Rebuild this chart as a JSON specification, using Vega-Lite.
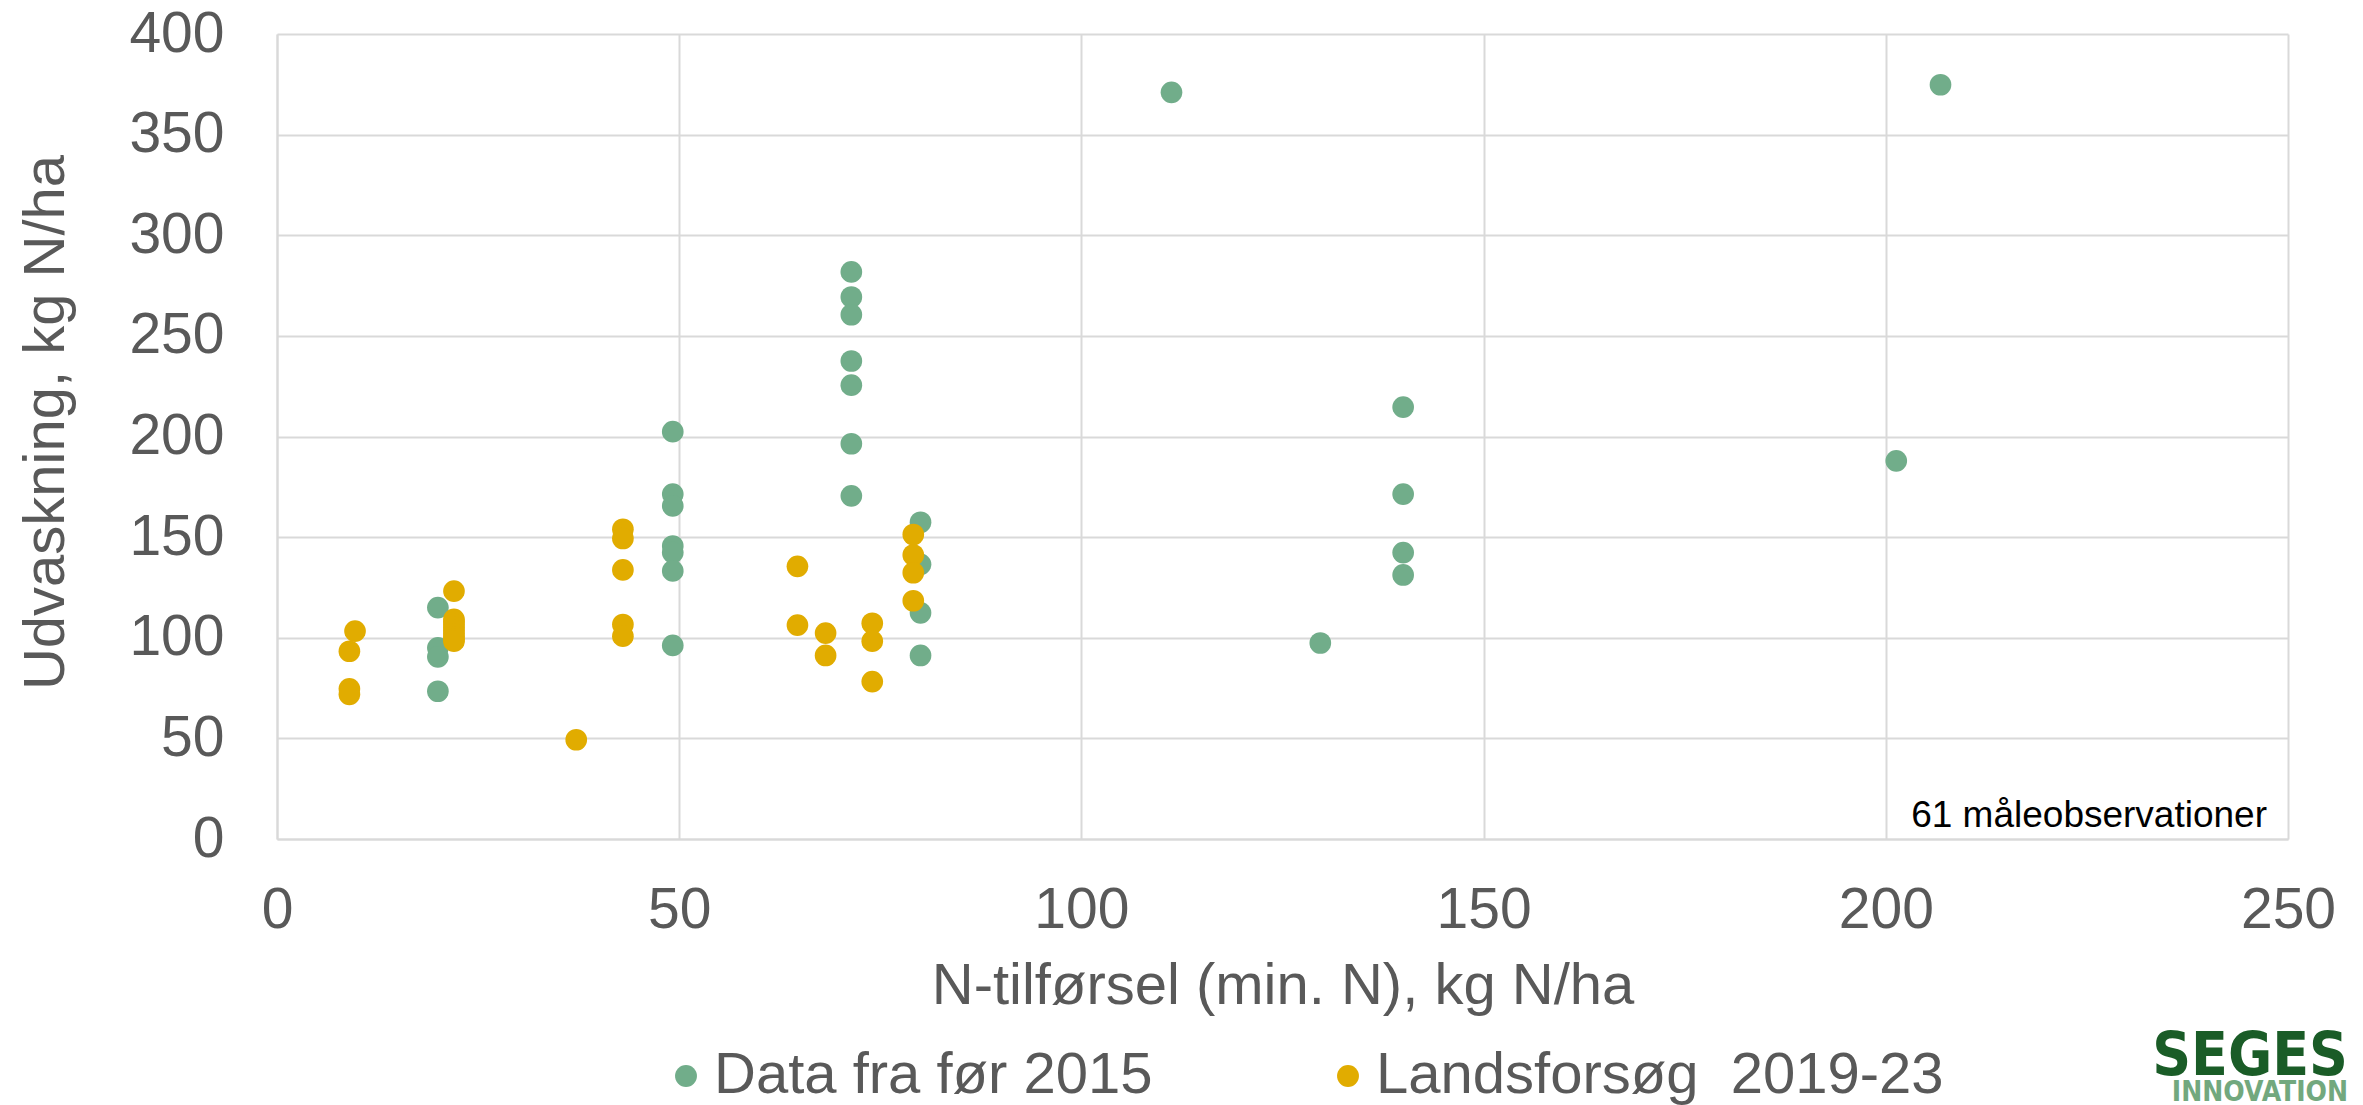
{
  "$schema": "https://vega.github.io/schema/vega-lite/v6.json",
  "width": 2011,
  "height": 805,
  "autosize": {"type": "none"},
  "padding": {"left": 277, "top": 34, "right": 75, "bottom": 266},
  "background": "white",
  "config": {"view": {"stroke": null}, "font": "Liberation Sans, Arial, sans-serif"},
  "datasets": {
    "obs": [
      {"N": 20, "udv": 115, "serie": "Data fra før 2015"},
      {"N": 20, "udv": 95, "serie": "Data fra før 2015"},
      {"N": 20, "udv": 90.5, "serie": "Data fra før 2015"},
      {"N": 20, "udv": 73.4, "serie": "Data fra før 2015"},
      {"N": 49.2, "udv": 202.4, "serie": "Data fra før 2015"},
      {"N": 49.2, "udv": 171.4, "serie": "Data fra før 2015"},
      {"N": 49.2, "udv": 165.5, "serie": "Data fra før 2015"},
      {"N": 49.2, "udv": 145.6, "serie": "Data fra før 2015"},
      {"N": 49.2, "udv": 142.3, "serie": "Data fra før 2015"},
      {"N": 49.2, "udv": 133.2, "serie": "Data fra før 2015"},
      {"N": 49.2, "udv": 96.2, "serie": "Data fra før 2015"},
      {"N": 71.4, "udv": 281.8, "serie": "Data fra før 2015"},
      {"N": 71.4, "udv": 269.3, "serie": "Data fra før 2015"},
      {"N": 71.4, "udv": 260.5, "serie": "Data fra før 2015"},
      {"N": 71.4, "udv": 237.5, "serie": "Data fra før 2015"},
      {"N": 71.4, "udv": 225.5, "serie": "Data fra før 2015"},
      {"N": 71.4, "udv": 196.4, "serie": "Data fra før 2015"},
      {"N": 71.4, "udv": 170.5, "serie": "Data fra før 2015"},
      {"N": 80, "udv": 157.4, "serie": "Data fra før 2015"},
      {"N": 80, "udv": 136.5, "serie": "Data fra før 2015"},
      {"N": 80, "udv": 112.4, "serie": "Data fra før 2015"},
      {"N": 80, "udv": 91.2, "serie": "Data fra før 2015"},
      {"N": 111.2, "udv": 371, "serie": "Data fra før 2015"},
      {"N": 129.7, "udv": 97.4, "serie": "Data fra før 2015"},
      {"N": 140, "udv": 214.6, "serie": "Data fra før 2015"},
      {"N": 140, "udv": 171.4, "serie": "Data fra før 2015"},
      {"N": 140, "udv": 142.3, "serie": "Data fra før 2015"},
      {"N": 140, "udv": 131.2, "serie": "Data fra før 2015"},
      {"N": 201.3, "udv": 187.9, "serie": "Data fra før 2015"},
      {"N": 206.8, "udv": 374.8, "serie": "Data fra før 2015"},
      {"N": 9.7, "udv": 103.3, "serie": "Landsforsøg  2019-23"},
      {"N": 9, "udv": 93.3, "serie": "Landsforsøg  2019-23"},
      {"N": 9, "udv": 74.6, "serie": "Landsforsøg  2019-23"},
      {"N": 9, "udv": 71.9, "serie": "Landsforsøg  2019-23"},
      {"N": 22, "udv": 123.2, "serie": "Landsforsøg  2019-23"},
      {"N": 22, "udv": 109.1, "serie": "Landsforsøg  2019-23"},
      {"N": 22, "udv": 108, "serie": "Landsforsøg  2019-23"},
      {"N": 22, "udv": 106.5, "serie": "Landsforsøg  2019-23"},
      {"N": 22, "udv": 105, "serie": "Landsforsøg  2019-23"},
      {"N": 22, "udv": 103.5, "serie": "Landsforsøg  2019-23"},
      {"N": 22, "udv": 102, "serie": "Landsforsøg  2019-23"},
      {"N": 22, "udv": 100.5, "serie": "Landsforsøg  2019-23"},
      {"N": 22, "udv": 99.3, "serie": "Landsforsøg  2019-23"},
      {"N": 22, "udv": 98.3, "serie": "Landsforsøg  2019-23"},
      {"N": 37.2, "udv": 49.3, "serie": "Landsforsøg  2019-23"},
      {"N": 43, "udv": 153.9, "serie": "Landsforsøg  2019-23"},
      {"N": 43, "udv": 149.3, "serie": "Landsforsøg  2019-23"},
      {"N": 43, "udv": 133.7, "serie": "Landsforsøg  2019-23"},
      {"N": 43, "udv": 106.6, "serie": "Landsforsøg  2019-23"},
      {"N": 43, "udv": 100.8, "serie": "Landsforsøg  2019-23"},
      {"N": 64.7, "udv": 135.5, "serie": "Landsforsøg  2019-23"},
      {"N": 64.7, "udv": 106.3, "serie": "Landsforsøg  2019-23"},
      {"N": 68.2, "udv": 102.3, "serie": "Landsforsøg  2019-23"},
      {"N": 68.2, "udv": 91.2, "serie": "Landsforsøg  2019-23"},
      {"N": 74, "udv": 107.2, "serie": "Landsforsøg  2019-23"},
      {"N": 74, "udv": 98.3, "serie": "Landsforsøg  2019-23"},
      {"N": 74, "udv": 78.2, "serie": "Landsforsøg  2019-23"},
      {"N": 79.1, "udv": 151.3, "serie": "Landsforsøg  2019-23"},
      {"N": 79.1, "udv": 141.1, "serie": "Landsforsøg  2019-23"},
      {"N": 79.1, "udv": 132.3, "serie": "Landsforsøg  2019-23"},
      {"N": 79.1, "udv": 118.4, "serie": "Landsforsøg  2019-23"}
    ],
    "note": [{"tekst": "61 måleobservationer"}],
    "logo1": [{"tekst": "SEGES"}],
    "logo2": [{"tekst": "INNOVATION"}]
  },
  "layer": [
    {
      "data": {"name": "obs"},
      "mark": {"type": "circle", "size": 470, "opacity": 1},
      "encoding": {
        "x": {
          "field": "N",
          "type": "quantitative",
          "scale": {"domain": [0, 250], "nice": false},
          "axis": {
            "values": [0, 50, 100, 150, 200, 250],
            "grid": true,
            "gridColor": "#d9d9d9",
            "gridWidth": 2,
            "domainColor": "#d9d9d9",
            "domainWidth": 2,
            "ticks": false,
            "tickSize": 0,
            "labelFontSize": 57,
            "labelColor": "#595959",
            "labelPadding": 43,
            "labelFlush": false,
            "labelOverlap": false,
            "title": "N-tilførsel (min. N), kg N/ha",
            "titleFontSize": 58,
            "titleFontWeight": "normal",
            "titleColor": "#595959",
            "titleBaseline": "alphabetic",
            "titleY": 164
          }
        },
        "y": {
          "field": "udv",
          "type": "quantitative",
          "scale": {"domain": [0, 400], "nice": false},
          "axis": {
            "values": [0, 50, 100, 150, 200, 250, 300, 350, 400],
            "grid": true,
            "gridColor": "#d9d9d9",
            "gridWidth": 2,
            "domainColor": "#d9d9d9",
            "domainWidth": 2,
            "ticks": false,
            "tickSize": 0,
            "labelFontSize": 57,
            "labelColor": "#595959",
            "labelPadding": 53,
            "labelFlush": false,
            "labelOverlap": false,
            "title": "Udvaskning, kg N/ha",
            "titleFontSize": 58,
            "titleFontWeight": "normal",
            "titleColor": "#595959",
            "titleAngle": -90,
            "titleBaseline": "alphabetic",
            "titleAlign": "center",
            "titleX": -214,
            "titleY": 388
          }
        },
        "color": {
          "field": "serie",
          "type": "nominal",
          "scale": {"domain": ["Data fra før 2015", "Landsforsøg  2019-23"], "range": ["#71ad8a", "#e1ac00"]},
          "legend": {
            "title": null,
            "orient": "none",
            "legendX": 380,
            "legendY": 1013,
            "direction": "horizontal",
            "padding": 0,
            "labelFontSize": 58,
            "labelColor": "#595959",
            "labelLimit": 2000,
            "labelOffset": -1,
            "columnPadding": 166,
            "symbolType": "circle",
            "symbolSize": 480,
            "symbolStrokeWidth": 0,
            "symbolOpacity": 1,
            "labelExpr": "replace(datum.label, '  ', '\u00a0 ')"
          }
        }
      }
    },
    {
      "data": {"name": "note"},
      "mark": {"type": "text", "align": "right", "baseline": "alphabetic", "dx": -21, "dy": -12, "fontSize": 37, "color": "#000000"},
      "encoding": {"x": {"datum": 250}, "y": {"datum": 0}, "text": {"field": "tekst"}}
    },
    {
      "data": {"name": "logo1"},
      "mark": {"type": "text", "align": "right", "baseline": "alphabetic", "dx": 60, "dy": 236, "fontSize": 60, "fontWeight": "bold", "font": "Liberation Sans Narrow, Arial Narrow, DejaVu Sans Condensed, sans-serif", "color": "#1a5c27"},
      "encoding": {"x": {"datum": 250}, "y": {"datum": 0}, "text": {"field": "tekst"}}
    },
    {
      "data": {"name": "logo2"},
      "mark": {"type": "text", "align": "right", "baseline": "alphabetic", "dx": 60, "dy": 262, "fontSize": 28, "fontWeight": "bold", "font": "Liberation Sans Narrow, Arial Narrow, DejaVu Sans Condensed, sans-serif", "color": "#72a87e"},
      "encoding": {"x": {"datum": 250}, "y": {"datum": 0}, "text": {"field": "tekst"}}
    }
  ]
}
